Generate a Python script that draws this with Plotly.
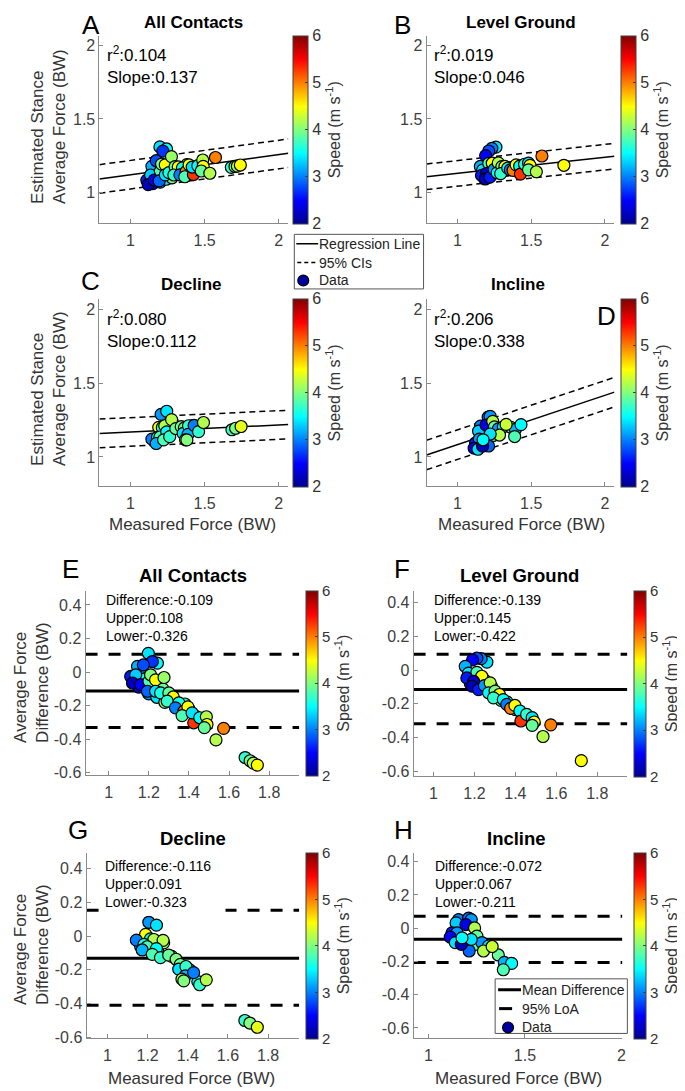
import plotly.graph_objects as go

W, H = 685, 1091

# ---------------- values ----------------
# Bland-Altman panels: measured force (BW), difference estimated - measured (BW), speed (m/s)
all_meas = [1.16, 1.18, 1.22, 1.25, 1.27, 1.31, 1.33, 1.38, 1.40, 1.43, 1.46, 1.47, 1.12, 1.15, 1.20, 1.24, 1.28,
            1.198, 1.243, 1.218, 1.144, 1.173, 1.110, 1.135, 1.119, 1.160, 1.201, 1.209, 1.234, 1.276, 1.193,
            1.234, 1.259, 1.300, 1.322, 1.292, 1.350, 1.333, 1.375, 1.395, 1.366, 1.424, 1.416, 1.454, 1.487,
            1.490, 1.477, 1.573, 1.535, 1.680, 1.705, 1.721, 1.741]
all_diff = [0.02, -0.04, -0.09, -0.07, -0.10, -0.15, -0.17, -0.19, -0.22, -0.26, -0.29, -0.30, -0.04, -0.09, -0.13, -0.15, -0.18,
            0.112, 0.053, 0.063, 0.034, 0.043, -0.026, -0.016, -0.065, -0.075, -0.055, -0.016, -0.046, -0.032, -0.114,
            -0.114, -0.124, -0.124, -0.148, -0.173, -0.183, -0.213, -0.233, -0.207, -0.259, -0.302, -0.243, -0.272, -0.266,
            -0.312, -0.331, -0.335, -0.404, -0.509, -0.528, -0.542, -0.554]
all_speed = [3.0, 3.6, 2.9, 3.8, 3.9, 3.4, 4.0, 3.7, 3.6, 3.9, 3.7, 3.8, 2.3, 2.4, 3.1, 3.4, 4.0,
             3.4, 3.5, 2.7, 3.2, 2.8, 2.6, 3.3, 2.2, 2.5, 3.8, 4.0, 4.5, 4.1, 2.9,
             3.4, 3.6, 3.9, 4.5, 3.7, 3.6, 3.0, 5.0, 4.5, 3.8, 5.3, 3.4, 3.5, 4.2,
             4.5, 3.9, 5.0, 4.2, 3.7, 3.9, 4.2, 4.5]

level_meas = [1.25, 1.31, 1.33, 1.36, 1.20, 1.18, 1.285, 1.40, 1.46,
              1.261, 1.233, 1.212, 1.191, 1.155, 1.171, 1.212, 1.236, 1.163, 1.196, 1.188, 1.220, 1.249, 1.277,
              1.269, 1.301, 1.322, 1.293, 1.341, 1.358, 1.377, 1.398, 1.422, 1.427, 1.455, 1.482, 1.492, 1.482,
              1.573, 1.535, 1.722]
level_diff = [-0.06, -0.15, -0.18, -0.19, -0.03, -0.08, -0.10, -0.235, -0.29,
              0.047, 0.067, 0.070, 0.060, 0.022, -0.018, -0.014, -0.037, -0.047, -0.067, -0.096, -0.116, -0.092, -0.076,
              -0.135, -0.125, -0.145, -0.165, -0.175, -0.204, -0.227, -0.210, -0.243, -0.302, -0.263, -0.282, -0.308, -0.328,
              -0.325, -0.394, -0.537]
level_speed = [3.8, 3.3, 3.9, 3.6, 3.3, 2.9, 3.7, 3.6, 3.6,
               3.4, 3.0, 2.8, 2.5, 3.2, 3.4, 3.8, 4.5, 2.6, 2.3, 2.2, 2.6, 3.1, 4.2,
               3.5, 4.0, 4.5, 3.7, 3.5, 3.0, 5.0, 4.5, 3.5, 5.3, 3.7, 3.4, 4.5, 3.9,
               5.0, 4.2, 4.5]

decline_meas = [1.165, 1.235, 1.25, 1.28, 1.32, 1.41, 1.45,
                1.206, 1.244, 1.190, 1.144, 1.214, 1.231, 1.277, 1.182, 1.198, 1.173, 1.244, 1.223, 1.264,
                1.305, 1.342, 1.363, 1.355, 1.391, 1.388, 1.371, 1.429, 1.459, 1.492, 1.380, 1.684, 1.709, 1.746]
decline_diff = [-0.06, -0.05, -0.09, -0.04, -0.12, -0.20, -0.27,
                0.082, 0.065, 0.010, -0.024, -0.016, -0.020, -0.025, -0.049, -0.063, -0.082, -0.074, -0.108, -0.127,
                -0.113, -0.137, -0.167, -0.196, -0.180, -0.235, -0.255, -0.216, -0.288, -0.259, -0.265, -0.500, -0.515, -0.540]
decline_speed = [3.3, 3.6, 3.5, 4.1, 3.9, 3.6, 3.5,
                 3.1, 3.4, 4.5, 3.0, 3.5, 4.2, 4.2, 3.6, 3.8, 3.2, 3.5, 3.8, 3.7,
                 3.9, 4.0, 3.9, 3.4, 3.7, 3.2, 4.2, 3.0, 3.7, 4.2, 4.0, 3.7, 4.0, 4.4]

incline_meas = [1.156, 1.208, 1.222, 1.143, 1.194, 1.239, 1.122, 1.148, 1.251, 1.113, 1.139, 1.191, 1.242,
                1.277, 1.311, 1.285, 1.211, 1.170, 1.362, 1.393, 1.431, 1.388, 1.222, 1.174, 1.330]
incline_diff = [0.052, 0.061, 0.052, 0.032, 0.022, 0.002, -0.028, -0.028, -0.048, -0.054, -0.087, -0.087, -0.097,
                -0.087, -0.107, -0.137, -0.137, -0.097, -0.161, -0.206, -0.212, -0.250, -0.067, -0.058, -0.110]
incline_speed = [3.0, 2.9, 3.1, 3.3, 2.4, 4.2, 2.6, 3.1, 3.9, 2.5, 3.4, 3.2, 3.8,
                 3.1, 3.4, 4.2, 2.9, 2.2, 3.9, 3.2, 3.5, 3.8, 3.4, 3.5, 4.3]

# regression lines as drawn in A-D: intercept, slope, half width of the CI band
reg_intercept = [0.984, 1.020, 1.122, 0.749]
reg_slope = [0.137, 0.110, 0.047, 0.334]
reg_ci = [0.097, 0.087, 0.097, 0.100]

# horizontal lines as drawn in E-H
ba_mean = [-0.112, -0.116, -0.131, -0.067]
ba_upper = [0.106, 0.094, 0.153, 0.072]
ba_lower = [-0.330, -0.318, -0.410, -0.206]

# printed statistics
r2_text = ["0.104", "0.019", "0.080", "0.206"]
slope_text = ["0.137", "0.046", "0.112", "0.338"]
diff_text = ["-0.109", "-0.139", "-0.116", "-0.072"]
upper_text = ["0.108", "0.145", "0.091", "0.067"]
lower_text = ["-0.326", "-0.422", "-0.323", "-0.211"]

titles = ["All Contacts", "Level Ground", "Decline", "Incline"]
letters = ["A", "B", "C", "D", "E", "F", "G", "H"]
legend_top = ["Regression Line", "95% CIs", "Data"]
legend_bottom = ["Mean Difference", "95% LoA", "Data"]

force_ticks = [1, 1.5, 2]
force_tick_labels = ["1", "1.5", "2"]
meas_ticks = [1, 1.2, 1.4, 1.6, 1.8]
meas_tick_labels = ["1", "1.2", "1.4", "1.6", "1.8"]
diff_ticks = [-0.6, -0.4, -0.2, 0, 0.2, 0.4]
diff_tick_labels = ["-0.6", "-0.4", "-0.2", "0", "0.2", "0.4"]
speed_ticks = [2, 3, 4, 5, 6]

groups = [
    (all_meas, all_diff, all_speed),
    (level_meas, level_diff, level_speed),
    (decline_meas, decline_diff, decline_speed),
    (incline_meas, incline_diff, incline_speed),
]

# ---------------- layout geometry (pixels) ----------------
FONT = "Liberation Sans, Arial, sans-serif"
JET = [[0, "rgb(0,0,143)"], [0.125, "rgb(0,0,255)"], [0.375, "rgb(0,255,255)"],
       [0.625, "rgb(255,255,0)"], [0.875, "rgb(255,0,0)"], [1, "rgb(128,0,0)"]]


def fx(px):
    return px / W


def fy(py):
    return 1 - py / H


# axes boxes: left, right, top, bottom
boxes = {1: (92, 282, 28, 217), 2: (421, 610, 28, 217),
         3: (92, 282, 293, 482), 4: (421, 610, 293, 482),
         5: (78, 293, 587, 773), 6: (408, 623, 587, 774),
         7: (79, 293, 851, 1038), 8: (408, 618, 851, 1038)}
xranges = {1: [0.79, 2.065], 2: [0.79, 2.065], 3: [0.79, 2.065], 4: [0.79, 2.065],
           5: [0.885, 1.95], 6: [0.903, 1.947], 7: [0.896, 1.955], 8: [0.923, 2.005]}
yranges = {1: [0.79, 2.065], 2: [0.79, 2.065], 3: [0.80, 2.07], 4: [0.80, 2.07],
           5: [-0.615, 0.485], 6: [-0.63, 0.47], 7: [-0.606, 0.494], 8: [-0.663, 0.454]}
# colorbars: left, thickness, top, bottom
cbars = {1: (287, 15, 28, 217), 2: (617, 15, 28, 217),
         3: (287, 15, 293, 482), 4: (617, 15, 293, 482),
         5: (300, 12, 587, 773), 6: (630, 12, 587, 774),
         7: (300, 12, 851, 1038), 8: (630, 12, 851, 1038)}


def ax_ids(i):
    return ("x" if i == 1 else f"x{i}"), ("y" if i == 1 else f"y{i}")


fig = go.Figure()


def colorbar(i):
    l, th, t, b = cbars[i]
    return dict(x=fx(l), xanchor="left", y=fy(t), yanchor="top",
                len=(b - t) / H, lenmode="fraction", thickness=th, thicknessmode="pixels",
                xpad=0, ypad=0, outlinewidth=1, outlinecolor="#404040",
                tickvals=speed_ticks, ticks="inside", ticklen=3, tickcolor="#404040",
                tickfont=dict(size=16 if i <= 4 else 15, color="#333", family=FONT),
                title=dict(text="Speed (m s<sup>-1</sup>)", side="right",
                           font=dict(size=16, color="#333", family=FONT)))


# ---------------- top row: estimated vs measured ----------------
for k, (meas, diff, speed) in enumerate(groups):
    i = k + 1
    xa, ya = ax_ids(i)
    x0, x1 = xranges[i]
    a, s, ci = reg_intercept[k], reg_slope[k], reg_ci[k]
    fig.add_trace(go.Scatter(
        x=[x0, x1], y=[a + s * x0, a + s * x1], mode="lines", xaxis=xa, yaxis=ya,
        line=dict(color="black", width=1.5), hoverinfo="skip"))
    fig.add_trace(go.Scatter(
        x=[x0, x1, None, x0, x1],
        y=[a + ci + s * x0, a + ci + s * x1, None, a - ci + s * x0, a - ci + s * x1],
        mode="lines", xaxis=xa, yaxis=ya,
        line=dict(color="black", width=1.5, dash="6px,4px"), hoverinfo="skip"))
    est = [m + d for m, d in zip(meas, diff)]
    fig.add_trace(go.Scatter(
        x=meas, y=est, mode="markers", xaxis=xa, yaxis=ya,
        marker=dict(color=speed, colorscale=JET, cmin=2, cmax=6, size=12,
                    line=dict(color="black", width=1.2), showscale=True, colorbar=colorbar(i))))

# ---------------- bottom rows: Bland-Altman ----------------
for k, (meas, diff, speed) in enumerate(groups):
    i = k + 5
    xa, ya = ax_ids(i)
    x0, x1 = xranges[i]
    fig.add_trace(go.Scatter(
        x=[x0, x1], y=[ba_mean[k], ba_mean[k]], mode="lines", xaxis=xa, yaxis=ya,
        line=dict(color="black", width=3), hoverinfo="skip"))
    fig.add_trace(go.Scatter(
        x=[x0, x1, None, x0, x1], y=[ba_upper[k], ba_upper[k], None, ba_lower[k], ba_lower[k]],
        mode="lines", xaxis=xa, yaxis=ya,
        line=dict(color="black", width=3, dash="12px,11px"), hoverinfo="skip"))
    fig.add_trace(go.Scatter(
        x=meas, y=diff, mode="markers", xaxis=xa, yaxis=ya,
        marker=dict(color=speed, colorscale=JET, cmin=2, cmax=6, size=12,
                    line=dict(color="black", width=1.2), showscale=True, colorbar=colorbar(i))))

# ---------------- axes ----------------
axis_style = dict(showline=True, linecolor="#8a8a8a", linewidth=1, mirror=False,
                  ticks="inside", ticklen=4, tickcolor="#8a8a8a", showgrid=False, zeroline=False,
                  tickfont=dict(size=16, color="#404040", family=FONT))
layout_axes = {}
for i in range(1, 9):
    l, r, t, b = boxes[i]
    xa, ya = ax_ids(i)
    if i <= 4:
        xt, xl, yt, yl = force_ticks, force_tick_labels, force_ticks, force_tick_labels
    elif i == 8:
        xt, xl, yt, yl = force_ticks, force_tick_labels, diff_ticks, diff_tick_labels
    else:
        xt, xl, yt, yl = meas_ticks, meas_tick_labels, diff_ticks, diff_tick_labels
    layout_axes["xaxis" if i == 1 else f"xaxis{i}"] = dict(
        axis_style, domain=[fx(l), fx(r)], range=xranges[i], anchor=ya,
        tickvals=xt, ticktext=xl, ticklabelstandoff=2)
    layout_axes["yaxis" if i == 1 else f"yaxis{i}"] = dict(
        axis_style, domain=[fy(b), fy(t)], range=yranges[i], anchor=xa,
        tickvals=yt, ticktext=yl)
fig.update_layout(**layout_axes)

# ---------------- text ----------------
ann = []
shapes = []


def text(px, py, s, size, xanchor="center", yanchor="middle", **kw):
    ann.append(dict(x=fx(px), y=fy(py), xref="paper", yref="paper", text=s, showarrow=False,
                    xanchor=xanchor, yanchor=yanchor, font=dict(size=size, color=kw.pop("color", "#111"),
                                                                 family=FONT), **kw))


letter_pos = [(83, 17), (397, 17), (83, 275), (602, 310), (63, 565), (396, 565), (70, 828), (398, 828)]
for lt, (px, py) in zip(letters, letter_pos):
    text(px, py, lt, 26, color="black")

title_pos = [(187, 15), (516, 15), (184, 279), (513, 279), (186, 572), (515, 572), (186, 837), (511, 837)]
for j, (px, py) in enumerate(title_pos):
    text(px, py, "<b>" + titles[j % 4] + "</b>", 17 if j < 4 else 18.5, color="black")

top_stat_pos = [(98, 57), (426, 57), (98, 323), (426, 323)]
for k, (px, py) in enumerate(top_stat_pos):
    text(px, py, f"r<sup>2</sup>:{r2_text[k]}<br>Slope:{slope_text[k]}", 17,
         xanchor="left", align="left", color="black")

bot_stat_pos = [(97, 615), (426, 615), (92, 882), (427, 882)]
for k, (px, py) in enumerate(bot_stat_pos):
    s = f"Difference:{diff_text[k]}<br>Upper:{upper_text[k]}<br>Lower:{lower_text[k]}"
    if k == 2:
        text(px, py, s, 14, xanchor="left", align="left", color="black",
             bgcolor="white", borderpad=5, width=115)
    else:
        text(px, py, s, 14, xanchor="left", align="left", color="black")

for px, py in [(186, 520), (517, 520), (185, 1078), (513, 1078)]:
    text(px, py, "Measured Force (BW)", 17, color="#333")
for px, py in [(40, 119), (40, 383)]:
    text(px, py, "Estimated Stance<br>Average Force (BW)", 17, textangle=-90, align="left", color="#333")
for px, py in [(23, 679), (23, 943)]:
    text(px, py, "Average Force<br>Difference (BW)", 17, textangle=-90, align="left", color="#333")


# ---------------- legends (drawn as boxes with samples) ----------------
def legend_box(l, t, r, b, rows, labels, sample_x, text_x, width, dash, marker_x):
    shapes.append(dict(type="rect", xref="paper", yref="paper", x0=fx(l), x1=fx(r), y0=fy(b), y1=fy(t),
                       line=dict(color="#555", width=1), fillcolor="white", layer="above"))
    shapes.append(dict(type="line", xref="paper", yref="paper", x0=fx(sample_x[0]), x1=fx(sample_x[1]),
                       y0=fy(rows[0]), y1=fy(rows[0]), line=dict(color="black", width=width), layer="above"))
    shapes.append(dict(type="line", xref="paper", yref="paper", x0=fx(sample_x[0] + 1), x1=fx(sample_x[1]),
                       y0=fy(rows[1]), y1=fy(rows[1]), line=dict(color="black", width=width, dash=dash),
                       layer="above"))
    shapes.append(dict(type="circle", xref="paper", yref="paper", x0=fx(marker_x - 5.5), x1=fx(marker_x + 5.5),
                       y0=fy(rows[2] + 5.5), y1=fy(rows[2] - 5.5),
                       line=dict(color="black", width=1.2), fillcolor="rgb(0,0,160)", layer="above"))
    for lab, ry in zip(labels, rows):
        text(text_x, ry, lab, 14, xanchor="left", color="#222")


legend_box(288, 228, 418, 283, [237.5, 256.5, 274.5], legend_top, (290, 312), 311, 1.5, "4px,3px", 297)
legend_box(490, 978, 623, 1033, [989, 1008, 1027], legend_bottom, (493, 516), 515, 3, "13px,20px", 503)

fig.update_layout(
    width=W, height=H, margin=dict(l=0, r=0, t=0, b=0),
    plot_bgcolor="white", paper_bgcolor="white",
    font=dict(family=FONT),
    annotations=ann, shapes=shapes, showlegend=False,
)

fig.write_html("out.html")
